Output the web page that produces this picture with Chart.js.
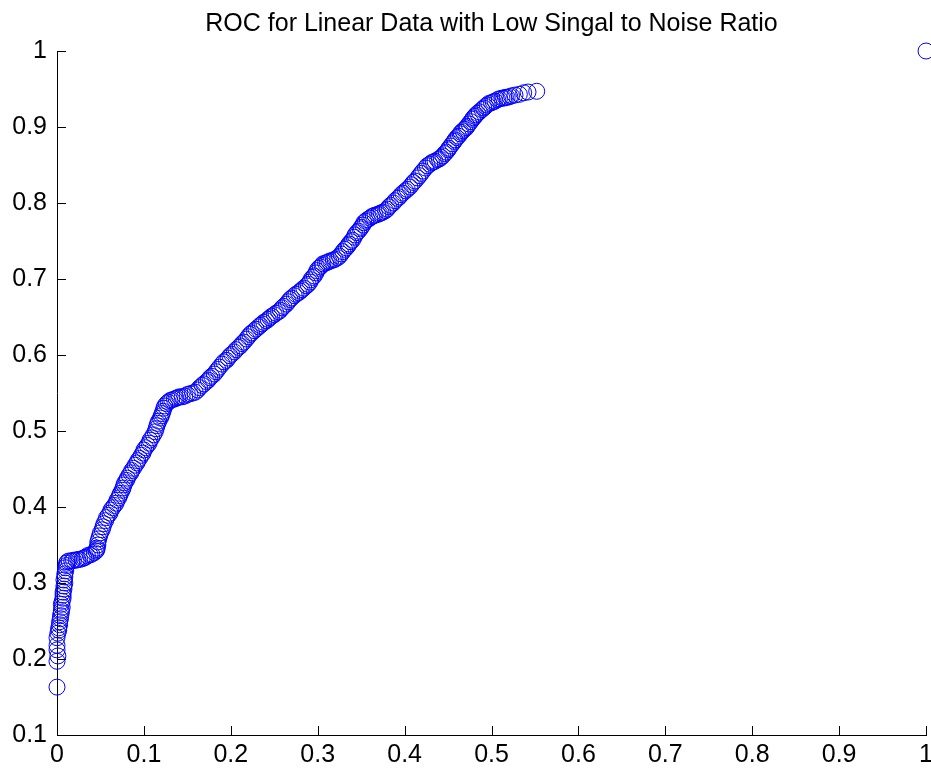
<!DOCTYPE html>
<html>
<head>
<meta charset="utf-8">
<title>ROC</title>
<script src="https://cdn.jsdelivr.net/npm/chart.js@4"></script>
<style>
  html, body { margin:0; padding:0; background:#fff; overflow:hidden; }
  canvas { display:block; }
</style>
</head>
<body>
<canvas id="chart" width="938" height="770"></canvas>
<script>
const TITLE = "ROC for Linear Data with Low Singal to Noise Ratio";

// false positive rate (x)
const fpr = [
  0, 0, 0.001, 0, 0, 0, 0.001, 0.002, 0.002, 0.003,
  0.003, 0.004, 0.004, 0.005, 0.005, 0.006, 0.005, 0.006, 0.007, 0.007,
  0.007, 0.008, 0.008, 0.009, 0.008, 0.009, 0.009, 0.010, 0.010, 0.011,
  0.011, 0.012, 0.014, 0.017, 0.019, 0.022, 0.024, 0.026, 0.029, 0.031,
  0.033, 0.035, 0.038, 0.040, 0.043, 0.045, 0.046, 0.046, 0.047, 0.047,
  0.048, 0.049, 0.050, 0.052, 0.053, 0.054, 0.056, 0.057, 0.059, 0.061,
  0.062, 0.064, 0.066, 0.068, 0.069, 0.071, 0.072, 0.073, 0.075, 0.076,
  0.077, 0.078, 0.080, 0.081, 0.083, 0.085, 0.086, 0.088, 0.090, 0.092,
  0.093, 0.095, 0.097, 0.099, 0.100, 0.102, 0.104, 0.106, 0.107, 0.109,
  0.111, 0.113, 0.114, 0.115, 0.116, 0.117, 0.119, 0.120, 0.121, 0.122,
  0.123, 0.124, 0.126, 0.128, 0.130, 0.132, 0.135, 0.137, 0.139, 0.141,
  0.144, 0.147, 0.150, 0.153, 0.156, 0.159, 0.162, 0.164, 0.167, 0.169,
  0.172, 0.174, 0.176, 0.178, 0.181, 0.183, 0.185, 0.187, 0.190, 0.192,
  0.195, 0.197, 0.199, 0.201, 0.204, 0.206, 0.209, 0.211, 0.213, 0.215,
  0.218, 0.220, 0.222, 0.224, 0.227, 0.229, 0.232, 0.234, 0.236, 0.238,
  0.241, 0.243, 0.245, 0.247, 0.250, 0.252, 0.255, 0.257, 0.259, 0.261,
  0.264, 0.266, 0.268, 0.270, 0.273, 0.275, 0.278, 0.280, 0.282, 0.284,
  0.287, 0.289, 0.291, 0.292, 0.294, 0.296, 0.298, 0.299, 0.301, 0.303,
  0.305, 0.306, 0.309, 0.311, 0.313, 0.315, 0.318, 0.320, 0.323, 0.325,
  0.327, 0.329, 0.331, 0.333, 0.335, 0.336, 0.338, 0.340, 0.342, 0.343,
  0.345, 0.347, 0.349, 0.350, 0.352, 0.353, 0.355, 0.357, 0.360, 0.362,
  0.364, 0.366, 0.369, 0.371, 0.373, 0.375, 0.378, 0.380, 0.382, 0.384,
  0.387, 0.389, 0.392, 0.394, 0.396, 0.398, 0.401, 0.403, 0.406, 0.408,
  0.410, 0.412, 0.415, 0.417, 0.419, 0.421, 0.424, 0.426, 0.429, 0.431,
  0.433, 0.435, 0.438, 0.440, 0.442, 0.444, 0.446, 0.448, 0.450, 0.451,
  0.453, 0.455, 0.457, 0.458, 0.460, 0.462, 0.464, 0.465, 0.467, 0.469,
  0.471, 0.472, 0.474, 0.476, 0.478, 0.479, 0.481, 0.482, 0.484, 0.486,
  0.489, 0.491, 0.493, 0.495, 0.497, 0.500, 0.502, 0.504, 0.507, 0.509,
  0.512, 0.514, 0.516, 0.518, 0.521, 0.523, 0.527, 0.532, 0.537, 0.542,
  0.552, 1
];

// true positive rate (y)
const tpr = [
  0.163, 0.197, 0.204, 0.212, 0.218, 0.228, 0.234, 0.238, 0.241, 0.245,
  0.249, 0.253, 0.257, 0.261, 0.264, 0.268, 0.272, 0.276, 0.280, 0.284,
  0.288, 0.292, 0.296, 0.300, 0.304, 0.308, 0.312, 0.316, 0.320, 0.323,
  0.326, 0.328, 0.329, 0.329, 0.330, 0.330, 0.331, 0.331, 0.332, 0.333,
  0.334, 0.336, 0.337, 0.338, 0.340, 0.342, 0.344, 0.346, 0.350, 0.354,
  0.358, 0.362, 0.366, 0.370, 0.374, 0.378, 0.382, 0.386, 0.389, 0.392,
  0.396, 0.399, 0.402, 0.405, 0.409, 0.412, 0.415, 0.418, 0.422, 0.425,
  0.429, 0.432, 0.435, 0.438, 0.442, 0.445, 0.448, 0.451, 0.455, 0.458,
  0.461, 0.464, 0.468, 0.471, 0.475, 0.478, 0.481, 0.484, 0.488, 0.491,
  0.495, 0.499, 0.503, 0.507, 0.510, 0.513, 0.517, 0.520, 0.523, 0.526,
  0.530, 0.533, 0.536, 0.538, 0.540, 0.541, 0.542, 0.543, 0.544, 0.545,
  0.545, 0.546, 0.548, 0.549, 0.550, 0.551, 0.554, 0.557, 0.560, 0.562,
  0.565, 0.567, 0.570, 0.572, 0.575, 0.578, 0.581, 0.584, 0.588, 0.591,
  0.593, 0.596, 0.599, 0.601, 0.604, 0.607, 0.610, 0.612, 0.615, 0.617,
  0.621, 0.624, 0.627, 0.629, 0.632, 0.634, 0.637, 0.639, 0.641, 0.643,
  0.645, 0.647, 0.649, 0.651, 0.653, 0.655, 0.657, 0.659, 0.662, 0.664,
  0.667, 0.670, 0.673, 0.675, 0.678, 0.680, 0.682, 0.684, 0.686, 0.688,
  0.691, 0.693, 0.696, 0.699, 0.702, 0.704, 0.708, 0.711, 0.714, 0.716,
  0.718, 0.720, 0.721, 0.722, 0.723, 0.724, 0.725, 0.726, 0.728, 0.730,
  0.733, 0.736, 0.739, 0.741, 0.744, 0.746, 0.749, 0.751, 0.755, 0.758,
  0.761, 0.763, 0.766, 0.768, 0.771, 0.774, 0.776, 0.778, 0.780, 0.782,
  0.783, 0.784, 0.785, 0.786, 0.787, 0.788, 0.790, 0.792, 0.795, 0.797,
  0.800, 0.803, 0.806, 0.808, 0.811, 0.813, 0.816, 0.818, 0.821, 0.824,
  0.827, 0.829, 0.833, 0.836, 0.839, 0.842, 0.846, 0.849, 0.851, 0.853,
  0.854, 0.855, 0.857, 0.858, 0.860, 0.862, 0.865, 0.867, 0.870, 0.872,
  0.875, 0.878, 0.881, 0.883, 0.886, 0.888, 0.891, 0.893, 0.895, 0.897,
  0.899, 0.901, 0.904, 0.907, 0.910, 0.912, 0.914, 0.916, 0.918, 0.920,
  0.923, 0.925, 0.927, 0.929, 0.931, 0.932, 0.933, 0.934, 0.936, 0.937,
  0.938, 0.938, 0.939, 0.939, 0.940, 0.941, 0.942, 0.943, 0.945, 0.946,
  0.947, 1
];

const xRange = [0, 1];
const yRange = [0.1, 1];
const tickStep = 0.1;

const FONT = "'Liberation Sans', Arial, Helvetica, sans-serif";

// matlab style ticks pointing into the axes
const inwardTicks = {
  id: "inwardTicks",
  afterDraw(chart){
    const { ctx, chartArea, scales } = chart;
    const len = 9;
    ctx.save();
    ctx.strokeStyle = "#000";
    ctx.lineWidth = 1;
    ctx.beginPath();
    scales.x.ticks.forEach(t=>{
      const px = Math.round(scales.x.getPixelForValue(t.value)) + 0.5;
      ctx.moveTo(px, chartArea.bottom);
      ctx.lineTo(px, chartArea.bottom - len);
    });
    scales.y.ticks.forEach(t=>{
      const py = Math.round(scales.y.getPixelForValue(t.value)) + 0.5;
      ctx.moveTo(chartArea.left, py);
      ctx.lineTo(chartArea.left + len, py);
    });
    ctx.stroke();
    ctx.restore();
  }
};

const fmt = v => String(+v.toFixed(1));
const points = fpr.map((x,i)=>({ x, y: tpr[i] }));

new Chart(document.getElementById("chart"), {
  type: "scatter",
  data: {
    datasets: [{
      data: points,
      pointStyle: "circle",
      pointRadius: 8,
      pointHoverRadius: 8,
      pointBorderWidth: 1,
      borderColor: "#0000ff",
      backgroundColor: "rgba(0,0,0,0)",
      clip: false
    }]
  },
  options: {
    responsive: false,
    animation: false,
    events: [],
    layout: { padding: 0 },
    plugins: {
      legend: { display: false },
      tooltip: { enabled: false },
      title: {
        display: true,
        fullSize: false,
        text: TITLE,
        color: "#000",
        font: { family: FONT, size: 25, weight: "normal", lineHeight: 1.2 },
        padding: { top: 9, bottom: 12 }
      }
    },
    scales: {
      x: {
        type: "linear",
        min: xRange[0], max: xRange[1],
        ticks: { stepSize: tickStep, color: "#000", padding: 5, callback: fmt,
                 font: { family: FONT, size: 25 } },
        grid: { display: true, drawOnChartArea: false, drawTicks: false },
        border: { display: true, color: "#000", width: 1 },
        afterFit(scale){ scale.height = 35; }
      },
      y: {
        type: "linear",
        min: yRange[0], max: yRange[1],
        ticks: { stepSize: tickStep, color: "#000", padding: 10, callback: fmt,
                 font: { family: FONT, size: 25 } },
        grid: { display: true, drawOnChartArea: false, drawTicks: false },
        border: { display: true, color: "#000", width: 1 },
        afterFit(scale){ scale.width = 57; }
      }
    }
  },
  plugins: [inwardTicks]
});
</script>
</body>
</html>
